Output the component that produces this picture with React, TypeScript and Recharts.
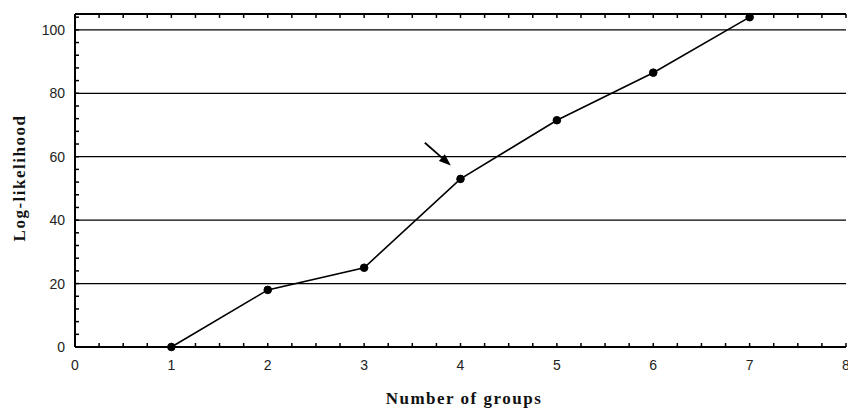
import React from "react";
import { LineChart, Line, XAxis, YAxis, ReferenceLine } from "recharts";

// values
const groups = [1, 2, 3, 4, 5, 6, 7];
const logLikelihood = [0, 18, 25, 53, 71.5, 86.5, 104];

const xLabels = [0, 1, 2, 3, 4, 5, 6, 7, 8];
const yLabels = [0, 20, 40, 60, 80, 100];
const gridValues = [20, 40, 60, 80, 100];

// minor tick steps (quarter unit on x, 4 units on y)
const xTicks = Array.from({ length: 33 }, (_, i) => i * 0.25);
const yTicks = Array.from({ length: 27 }, (_, i) => i * 4);

// the arrow pointing at the 4-group solution
const arrowFrom = { x: 3.63, y: 64.4 };
const arrowTo = { x: 3.9, y: 57.2 };

const data = groups.map((g, i) => ({ groups: g, ll: logLikelihood[i] }));

const tickFont = { fontFamily: "'Liberation Sans', Arial, sans-serif", fontSize: 14, fill: "#222" };
const titleFont = { fontFamily: "'Liberation Serif', 'Times New Roman', serif", fontSize: 17, fontWeight: 700, fill: "#111" };

function BottomTick({ x, y, payload }: any) {
  const major = xLabels.includes(payload.value);
  return (
    <g>
      <line x1={x} y1={y} x2={x} y2={y - 4} stroke="#000" strokeWidth={1.5} />
      {major && (
        <text x={x} y={y + 23} textAnchor="middle" {...tickFont}>
          {payload.value}
        </text>
      )}
    </g>
  );
}

function TopTick({ x, y }: any) {
  return <line x1={x} y1={y} x2={x} y2={y + 4} stroke="#000" strokeWidth={1.5} />;
}

function LeftTick({ x, y, payload }: any) {
  const major = yLabels.includes(payload.value);
  return (
    <g>
      <line x1={x} y1={y} x2={x + 4} y2={y} stroke="#000" strokeWidth={1.5} />
      {major && (
        <text x={x - 10} y={y + 5} textAnchor="end" {...tickFont}>
          {payload.value}
        </text>
      )}
    </g>
  );
}

function RightTick({ x, y }: any) {
  return <line x1={x} y1={y} x2={x - 3} y2={y} stroke="#000" strokeWidth={1.5} />;
}

function Arrow({ x1, y1, x2, y2 }: any) {
  const ang = Math.atan2(y2 - y1, x2 - x1);
  const len = 12;
  const half = 4.5;
  const bx = x2 - len * Math.cos(ang);
  const by = y2 - len * Math.sin(ang);
  const px = -Math.sin(ang) * half;
  const py = Math.cos(ang) * half;
  return (
    <g>
      <line x1={x1} y1={y1} x2={bx} y2={by} stroke="#000" strokeWidth={1.8} />
      <polygon points={`${x2},${y2} ${bx + px},${by + py} ${bx - px},${by - py}`} fill="#000" />
    </g>
  );
}

export default function App() {
  return (
    <div style={{ position: "absolute", left: 0, top: 0, width: 848, height: 411, background: "#fff" }}>
      <LineChart width={848} height={411} data={data} margin={{ top: 12, right: 0, bottom: 14, left: 20 }}>
        <XAxis
          dataKey="groups"
          type="number"
          domain={[0, 8]}
          ticks={xTicks}
          interval={0}
          tickSize={0}
          tickMargin={0}
          tickLine={false}
          tick={<BottomTick />}
          height={50}
          axisLine={{ stroke: "#000", strokeWidth: 2 }}
          label={{
            content: () => (
              <text x={464} y={404} textAnchor="middle" letterSpacing={1.5} {...titleFont}>
                Number of groups
              </text>
            ),
          }}
        />
        <XAxis
          xAxisId="top"
          orientation="top"
          dataKey="groups"
          type="number"
          domain={[0, 8]}
          ticks={xTicks}
          interval={0}
          tickSize={0}
          tickMargin={0}
          tickLine={false}
          tick={<TopTick />}
          height={2}
          axisLine={{ stroke: "#000", strokeWidth: 2 }}
        />
        <YAxis
          type="number"
          domain={[0, 105]}
          ticks={yTicks}
          interval={0}
          tickSize={0}
          tickMargin={0}
          tickLine={false}
          tick={<LeftTick />}
          width={55}
          axisLine={{ stroke: "#000", strokeWidth: 2 }}
          label={{
            content: () => (
              <text
                x={0}
                y={0}
                transform="translate(25,178) rotate(-90)"
                textAnchor="middle"
                letterSpacing={1.5}
                {...titleFont}
              >
                Log-likelihood
              </text>
            ),
          }}
        />
        <YAxis
          yAxisId="right"
          orientation="right"
          type="number"
          domain={[0, 105]}
          ticks={yTicks}
          interval={0}
          tickSize={0}
          tickMargin={0}
          tickLine={false}
          tick={<RightTick />}
          width={2}
          axisLine={false}
        />
        {gridValues.map((v) => (
          <ReferenceLine key={v} y={v} stroke="#000" strokeWidth={1.2} />
        ))}
        <ReferenceLine segment={[arrowFrom, arrowTo]} shape={<Arrow />} />
        <Line
          type="linear"
          dataKey="ll"
          stroke="#000"
          strokeWidth={1.6}
          dot={{ r: 3.8, fill: "#000", stroke: "#000", strokeWidth: 1 }}
          isAnimationActive={false}
        />
      </LineChart>
    </div>
  );
}
